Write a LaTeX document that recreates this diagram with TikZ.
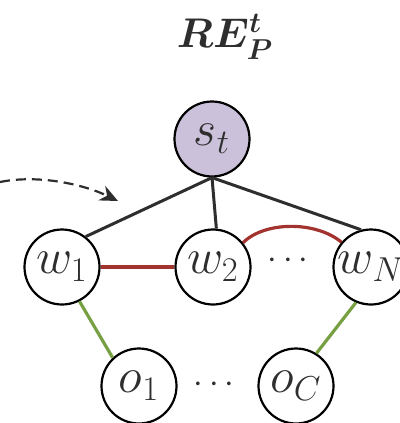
\documentclass[tikz,border=0pt]{standalone}
\usepackage{amsmath}
\usepackage{bm}
\usetikzlibrary{arrows.meta}
\definecolor{ink}{HTML}{2E2E2E}
\definecolor{statefill}{HTML}{CBC1DA}
\definecolor{linkred}{HTML}{A3332E}
\definecolor{linkgreen}{HTML}{76A042}
\tikzset{
  var/.style={circle, draw=black, line width=1.1pt, minimum size=37.5pt, inner sep=0pt,
              text=ink, font=\fontsize{25}{30}\selectfont},
  dotsfont/.style={text=ink, font=\fontsize{17}{20}\selectfont},
  edge/.style={draw=ink, line width=1.5pt},
  wordlink/.style={draw=linkred, line width=1.6pt},
  objlink/.style={draw=linkgreen, line width=1.6pt},
}
\begin{document}
\begin{tikzpicture}[x=0.5pt, y=-0.5pt]
  \useasboundingbox (0,0) rectangle (400,423);

  % title
  \node[text=ink, font=\fontsize{21}{25}\selectfont] (title) at (225,37) {$\bm{RE_{P}^{t}}$};

  % state node
  \node[var, fill=statefill] (s) at (212,139) {$s_t$};

  % word nodes
  \node[var] (w1) at (62,267) {$w_1$};
  \node[var] (w2) at (213,267) {$w_2$};
  \node[var] (wN) at (371,267) {$w_N$};
  \node[dotsfont] (wdots) at (291,261) {$\cdots$};

  % object nodes
  \node[var] (o1) at (139,386) {$o_1$};
  \node[var] (oC) at (296,386) {$o_C$};
  \node[dotsfont] (odots) at (217,385) {$\cdots$};

  % state to words
  \coordinate (sb) at (s.south);
  \draw[edge] (sb) -- (w1.52);
  \draw[edge] (sb) -- (w2.85);
  \draw[edge] (sb) -- (wN.105);

  % word to word
  \draw[wordlink] (w1) -- (w2);
  \draw[wordlink] (w2.39) .. controls (265,221) and (316,221) .. (wN.140);

  % words to objects
  \draw[objlink] (w1.-63) -- (o1.133);
  \draw[objlink] (wN.-113) -- (oC.58);

  % incoming dashed arrow
  \coordinate (in0) at (0,182);
  \coordinate (in1) at (118,201);
  \draw[ink, line width=1.1pt, dashed, dash pattern=on 5pt off 3pt, -{Stealth[length=9pt,width=8pt]}]
    (in0) .. controls (40,174) and (85,185) .. (in1);
\end{tikzpicture}
\end{document}
